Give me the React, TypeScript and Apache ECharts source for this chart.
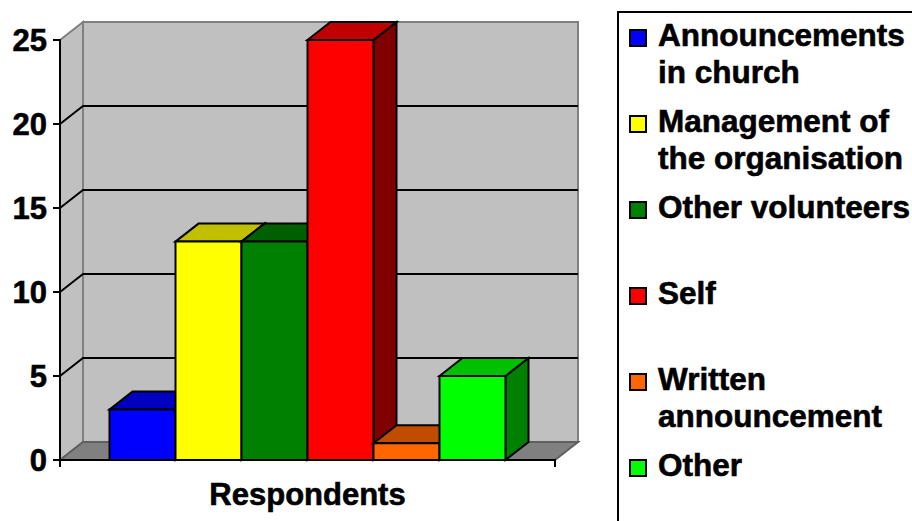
import React, { useEffect, useRef } from 'react';
import * as echarts from 'echarts';

// Survey: how respondents heard about volunteering
const categories = ['Respondents'];
const seriesNames = [
  'Announcements in church',
  'Management of the organisation',
  'Other volunteers',
  'Self',
  'Written announcement',
  'Other',
];
const legendLabels = [
  'Announcements\nin church',
  'Management of\nthe organisation',
  'Other volunteers',
  'Self',
  'Written\nannouncement',
  'Other',
];
const seriesValues = [3, 13, 13, 25, 1, 5];
const yTicks = [0, 5, 10, 15, 20, 25];

// face colours: front, top (75%) and side (50%)
const frontColors = ['#0000FF', '#FFFF00', '#008000', '#FF0000', '#FF6600', '#00FF00'];
const topColors = ['#0000C0', '#C0C000', '#006000', '#C00000', '#C04C00', '#00C000'];
const sideColors = ['#000080', '#808000', '#004000', '#800000', '#803300', '#008000'];

// oblique depth of the 3D projection
const DX = 23;
const DY = 18;
const FONT = '"Liberation Sans", Arial, Helvetica, sans-serif';

export default function App() {
  const ref = useRef<HTMLDivElement>(null);

  useEffect(() => {
    if (!ref.current) return;
    const chart = echarts.init(ref.current, undefined, { renderer: 'svg' });

    const walls = {
      type: 'custom',
      name: '__walls',
      coordinateSystem: 'cartesian2d',
      z: 1,
      silent: true,
      data: [[0, 0]],
      renderItem: (params: any, api: any) => {
        const cs = params.coordSys;
        const xL = cs.x;
        const xR = cs.x + cs.width;
        const yB = api.coord([0, yTicks[0]])[1];
        const yT = api.coord([0, yTicks[yTicks.length - 1]])[1];
        const edge = { stroke: '#808080', lineWidth: 2 };
        const children: any[] = [
          // side wall
          {
            type: 'polygon',
            shape: { points: [[xL, yT], [xL + DX, yT - DY], [xL + DX, yB - DY], [xL, yB]] },
            style: { fill: '#C0C0C0', ...edge },
          },
          // back wall
          {
            type: 'rect',
            shape: { x: xL + DX, y: yT - DY, width: xR - xL, height: yB - yT },
            style: { fill: '#C0C0C0', ...edge },
          },
          // floor
          {
            type: 'polygon',
            shape: { points: [[xL, yB], [xL + DX, yB - DY], [xR + DX, yB - DY], [xR, yB]] },
            style: { fill: '#808080', stroke: '#606060', lineWidth: 2 },
          },
        ];
        yTicks.slice(1, -1).forEach((t) => {
          const y = api.coord([0, t])[1];
          children.push({
            type: 'polyline',
            shape: { points: [[xL, y], [xL + DX, y - DY], [xR + DX, y - DY]] },
            style: { fill: 'none', stroke: '#000', lineWidth: 2 },
          });
        });
        return { type: 'group', children };
      },
    };

    const bars = seriesValues.map((v, i) => ({
      type: 'custom',
      name: seriesNames[i],
      coordinateSystem: 'cartesian2d',
      z: 3 + i,
      data: [[0, v]],
      renderItem: (_params: any, api: any) => {
        const base = api.coord([api.value(0), 0]);
        const top = api.coord([api.value(0), api.value(1)]);
        const band = api.size([1, 0])[0];
        const bw = (band * 0.8) / seriesValues.length;
        const x0 = base[0] - band * 0.4 + i * bw;
        const x1 = x0 + bw;
        const y0 = base[1];
        const y1 = top[1];
        const line = { stroke: '#000', lineWidth: 2, lineJoin: 'miter' };
        return {
          type: 'group',
          children: [
            {
              type: 'polygon',
              shape: { points: [[x1, y1], [x1 + DX, y1 - DY], [x1 + DX, y0 - DY], [x1, y0]] },
              style: { fill: sideColors[i], ...line },
            },
            {
              type: 'polygon',
              shape: { points: [[x0, y1], [x0 + DX, y1 - DY], [x1 + DX, y1 - DY], [x1, y1]] },
              style: { fill: topColors[i], ...line },
            },
            {
              type: 'rect',
              shape: { x: x0, y: y1, width: bw, height: y0 - y1 },
              style: { fill: frontColors[i], ...line },
            },
          ],
        };
      },
    }));

    // legend panel
    const legendItems: any[] = [];
    legendLabels.forEach((label, i) => {
      const baseline = 45 + i * 86;
      legendItems.push({
        type: 'rect',
        shape: { x: 630, y: baseline - 15, width: 16, height: 16 },
        style: { fill: frontColors[i], stroke: '#000', lineWidth: 2 },
      });
      legendItems.push({
        type: 'text',
        x: 658,
        y: baseline - 29,
        style: {
          text: label,
          font: `bold 31.5px ${FONT}`,
          fill: '#000',
          stroke: '#000',
          lineWidth: 0.6,
          lineHeight: 37,
          verticalAlign: 'top',
          align: 'left',
        },
      });
    });

    const axisText = {
      color: '#000',
      fontSize: 31,
      fontWeight: 'bold',
      fontFamily: FONT,
      textBorderColor: '#000',
      textBorderWidth: 0.6,
    };

    chart.setOption({
      animation: false,
      grid: { left: 60, top: 40, width: 495, height: 420 },
      xAxis: {
        type: 'category',
        data: categories,
        z: 10,
        axisLine: { lineStyle: { color: '#000', width: 2 } },
        axisTick: { show: true, length: 7, lineStyle: { color: '#000', width: 2 } },
        axisLabel: { ...axisText, margin: 19 },
      },
      yAxis: {
        type: 'value',
        min: 0,
        max: 25,
        interval: 5,
        z: 10,
        splitLine: { show: false },
        axisLine: { show: true, lineStyle: { color: '#000', width: 2 } },
        axisTick: { show: true, length: 7, lineStyle: { color: '#000', width: 2 } },
        axisLabel: { ...axisText, margin: 13 },
      },
      graphic: [
        {
          type: 'rect',
          shape: { x: 618, y: 12, width: 400, height: 600 },
          style: { fill: '#fff', stroke: '#000', lineWidth: 2 },
        },
        ...legendItems,
      ],
      series: [walls, ...bars],
    });

    return () => chart.dispose();
  }, []);

  return (
    <div
      ref={ref}
      style={{ position: 'fixed', left: 0, top: 0, width: 912, height: 521, background: '#fff' }}
    />
  );
}
